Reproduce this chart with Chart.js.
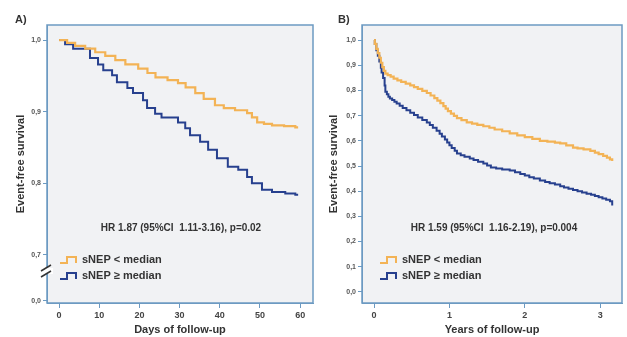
<!DOCTYPE html>
<html>
<head>
<meta charset="utf-8">
<script src="https://cdn.jsdelivr.net/npm/chart.js@4"></script>
<style>
  body { margin: 0; background: #fff; }
  #wrap { position: relative; width: 627px; height: 337px; overflow: hidden; }
  canvas { position: absolute; top: 0; }
  #chartA { left: 0; }
  #chartB { left: 316px; }
</style>
</head>
<body>
<div id="wrap">
  <canvas id="chartA" width="316" height="337"></canvas>
  <canvas id="chartB" width="311" height="337"></canvas>
</div>
<script>
// Panel A: days of follow-up (Kaplan-Meier steps)
const daysLow = [0, 2, 4, 6.5, 9, 11.5, 14, 16.5, 19.7, 22, 24, 27, 29.6, 31.5, 33.9, 36, 38.8, 41, 43.8, 46.8, 48, 49.3, 51, 53, 56, 58.8, 59.5];
const survLowA = [1.0, 0.996, 0.992, 0.988, 0.983, 0.978, 0.972, 0.966, 0.960, 0.954, 0.948, 0.944, 0.940, 0.934, 0.926, 0.918, 0.909, 0.905, 0.902, 0.898, 0.892, 0.885, 0.883, 0.881, 0.880, 0.878, 0.878];
const daysHigh = [0, 1.5, 3.5, 7.7, 9.7, 11, 13.2, 14.4, 17, 18.4, 20.9, 21.9, 23.9, 25.5, 29.6, 31.4, 32.6, 35.1, 37.1, 39.3, 42, 44.6, 46.8, 48, 50.5, 53, 56.3, 58.8, 59.5];
const survHighA = [1.0, 0.994, 0.988, 0.975, 0.966, 0.958, 0.951, 0.941, 0.933, 0.926, 0.916, 0.905, 0.897, 0.892, 0.885, 0.877, 0.867, 0.858, 0.847, 0.835, 0.823, 0.819, 0.809, 0.800, 0.791, 0.788, 0.786, 0.784, 0.784];

// Panel B: years of follow-up
const yearsLow = [0, 0.01, 0.03, 0.05, 0.07, 0.09, 0.11, 0.13, 0.15, 0.18, 0.22, 0.26, 0.31, 0.36, 0.42, 0.48, 0.53, 0.58, 0.64, 0.7, 0.75, 0.8, 0.84, 0.88, 0.92, 0.95, 0.98, 1.02, 1.06, 1.1, 1.16, 1.23, 1.3, 1.37, 1.45, 1.53, 1.6, 1.7, 1.8, 1.9, 2.0, 2.1, 2.2, 2.3, 2.4, 2.47, 2.55, 2.64, 2.7, 2.78, 2.87, 2.93, 2.98, 3.04, 3.09, 3.13, 3.16];
const survLowB = [1.0, 0.985, 0.965, 0.948, 0.93, 0.91, 0.893, 0.878, 0.867, 0.861, 0.855, 0.847, 0.84, 0.834, 0.827, 0.82, 0.813, 0.806, 0.798, 0.79, 0.78, 0.77, 0.76, 0.75, 0.738, 0.728, 0.718, 0.708, 0.699, 0.69, 0.682, 0.673, 0.668, 0.663, 0.658, 0.652, 0.645, 0.638, 0.63, 0.622, 0.615, 0.608, 0.60, 0.597, 0.593, 0.59, 0.582, 0.573, 0.57, 0.566, 0.56, 0.553, 0.547, 0.54, 0.533, 0.526, 0.52];
const yearsHigh = [0, 0.01, 0.03, 0.05, 0.07, 0.09, 0.1, 0.12, 0.14, 0.15, 0.17, 0.19, 0.21, 0.24, 0.27, 0.3, 0.34, 0.38, 0.43, 0.48, 0.53, 0.58, 0.64, 0.7, 0.74, 0.78, 0.83, 0.87, 0.9, 0.94, 0.97, 1.0, 1.03, 1.07, 1.1, 1.15, 1.2, 1.27, 1.32, 1.38, 1.45, 1.5, 1.55, 1.62, 1.7, 1.8, 1.87, 1.94, 2.0, 2.06, 2.12, 2.2, 2.27, 2.33, 2.4, 2.47, 2.52, 2.58, 2.64, 2.7, 2.76, 2.82, 2.88, 2.93, 2.98, 3.03, 3.08, 3.13, 3.16];
const survHighB = [1.0, 0.985, 0.96, 0.938, 0.915, 0.89, 0.871, 0.85, 0.82, 0.795, 0.785, 0.775, 0.768, 0.762, 0.755, 0.748, 0.739, 0.73, 0.721, 0.712, 0.703, 0.693, 0.683, 0.673, 0.663, 0.652, 0.64, 0.628, 0.617, 0.605, 0.593, 0.582, 0.572, 0.561, 0.55, 0.543, 0.537, 0.53, 0.524, 0.517, 0.51, 0.502, 0.494, 0.49, 0.486, 0.482, 0.475, 0.468, 0.462, 0.455, 0.45, 0.442, 0.437, 0.432, 0.427, 0.42, 0.415, 0.41, 0.405, 0.4, 0.395, 0.39, 0.386, 0.381, 0.376, 0.371, 0.366, 0.36, 0.343];

// Tick labels
const xTicksA = [0, 10, 20, 30, 40, 50, 60];
const xTicksB = [0, 1, 2, 3];
const breakZero = 0.636; // where "0,0" sits on the broken axis of panel A
const yTickValsA = [breakZero, 0.7, 0.8, 0.9, 1.0];
const yTickLabelsA = ["0,0", "0,7", "0,8", "0,9", "1,0"];
const yTickValsB = [0, 0.1, 0.2, 0.3, 0.4, 0.5, 0.6, 0.7, 0.8, 0.9, 1.0];
const yTickLabelsB = ["0,0", "0,1", "0,2", "0,3", "0,4", "0,5", "0,6", "0,7", "0,8", "0,9", "1,0"];

const legendLabels = ["sNEP < median", "sNEP \u2265 median"];
const hrTextA = "HR 1.87 (95%CI  1.11-3.16), p=0.02";
const hrTextB = "HR 1.59 (95%CI  1.16-2.19), p=0.004";

const ORANGE = "#f3b355";
const BLUE = "#27408e";
const FRAME = "#6c9ac2";
const TEXT = "#333333";
const FONT = "'Liberation Sans', Arial, sans-serif";

function toPoints(xs, ys) {
  return xs.map((x, i) => ({ x: x, y: ys[i] }));
}

// plot background + frame around the chart area
const framePlugin = {
  id: "frame",
  beforeDraw(chart) {
    const a = chart.chartArea;
    const ctx = chart.ctx;
    ctx.save();
    ctx.fillStyle = "#f1f2f4";
    ctx.fillRect(a.left, a.top, a.right - a.left, a.bottom - a.top);
    ctx.restore();
  },
  afterDraw(chart) {
    const a = chart.chartArea;
    const ctx = chart.ctx;
    ctx.save();
    ctx.strokeStyle = FRAME;
    ctx.lineWidth = 1.5;
    ctx.strokeRect(a.left, a.top, a.right - a.left, a.bottom - a.top);
    ctx.restore();
  },
};

// legend with step symbols, HR text, panel letter
function notesPlugin(opts) {
  return {
    id: "notes",
    afterDraw(chart) {
      const ctx = chart.ctx;
      ctx.save();
      ctx.fillStyle = TEXT;
      ctx.textBaseline = "middle";

      ctx.font = "bold 11px " + FONT;
      ctx.textAlign = "left";
      ctx.fillText(opts.panel, opts.panelX, 20);

      ctx.font = "bold 10px " + FONT;
      ctx.textAlign = "center";
      ctx.fillText(opts.hr, opts.hrX, 228);

      const colors = [ORANGE, BLUE];
      const rows = [260, 276];
      ctx.textAlign = "left";
      ctx.font = "bold 11px " + FONT;
      rows.forEach((y, i) => {
        const x0 = opts.legX;
        ctx.strokeStyle = colors[i];
        ctx.lineWidth = 2;
        ctx.beginPath();
        ctx.moveTo(x0, y + 3);
        ctx.lineTo(x0 + 7, y + 3);
        ctx.lineTo(x0 + 7, y - 3);
        ctx.lineTo(x0 + 16, y - 3);
        ctx.lineTo(x0 + 16, y + 3);
        ctx.stroke();
        ctx.fillStyle = TEXT;
        ctx.fillText(legendLabels[i], x0 + 22, y);
      });

      if (opts.axisBreak) {
        const x = chart.chartArea.left;
        const yBreak = chart.scales.y.getPixelForValue(0.7) + 16;
        ctx.fillStyle = "#ffffff";
        ctx.fillRect(x - 6, yBreak - 3, 12, 6);
        ctx.strokeStyle = "#333";
        ctx.lineWidth = 1.5;
        [-3, 3].forEach((d) => {
          ctx.beginPath();
          ctx.moveTo(x - 6, yBreak + d + 3);
          ctx.lineTo(x + 4, yBreak + d - 3);
          ctx.stroke();
        });
      }
      ctx.restore();
    },
  };
}

function makeChart(id, cfg) {
  const ctx = document.getElementById(id).getContext("2d");
  return new Chart(ctx, {
    type: "line",
    data: {
      datasets: [
        {
          label: legendLabels[0],
          data: toPoints(cfg.xLow, cfg.yLow),
          borderColor: ORANGE,
          borderWidth: 2.2,
          stepped: "before",
          pointRadius: 0,
          fill: false,
        },
        {
          label: legendLabels[1],
          data: toPoints(cfg.xHigh, cfg.yHigh),
          borderColor: BLUE,
          borderWidth: 2,
          stepped: "before",
          pointRadius: 0,
          fill: false,
        },
      ],
    },
    options: {
      responsive: false,
      animation: false,
      layout: { padding: { top: 25, right: cfg.padRight, left: 0, bottom: 0 } },
      plugins: { legend: { display: false }, tooltip: { enabled: false } },
      scales: {
        x: {
          type: "linear",
          min: cfg.xMin,
          max: cfg.xMax,
          afterBuildTicks: (s) => { s.ticks = cfg.xTicks.map((v) => ({ value: v })); },
          afterFit: (s) => { s.height = 34; },
          ticks: {
            color: "#444",
            font: { family: FONT, size: 9, weight: "bold" },
            padding: 2,
            maxRotation: 0,
          },
          grid: { drawOnChartArea: false, tickLength: 5, color: FRAME },
          border: { display: true, color: FRAME },
          title: {
            display: true,
            text: cfg.xTitle,
            color: TEXT,
            font: { family: FONT, size: 11, weight: "bold" },
            padding: { top: 0, bottom: 0 },
          },
        },
        y: {
          type: "linear",
          min: cfg.yMin,
          max: cfg.yMax,
          afterBuildTicks: (s) => { s.ticks = cfg.yTickVals.map((v) => ({ value: v })); },
          afterFit: (s) => { s.width = cfg.yWidth; },
          ticks: {
            color: "#555",
            font: { family: FONT, size: 7, weight: "bold" },
            padding: 2,
            callback: (v) => {
              const i = cfg.yTickVals.findIndex((t) => Math.abs(t - v) < 1e-6);
              return i >= 0 ? cfg.yTickLabels[i] : "";
            },
          },
          grid: { drawOnChartArea: false, tickLength: 4, color: FRAME },
          border: { display: true, color: FRAME },
          title: {
            display: true,
            text: "Event-free survival",
            color: TEXT,
            font: { family: FONT, size: 11, weight: "bold" },
            padding: { top: cfg.yTitlePad, bottom: 0 },
          },
        },
      },
    },
    plugins: [framePlugin, notesPlugin(cfg.notes)],
  });
}

makeChart("chartA", {
  xLow: daysLow, yLow: survLowA, xHigh: daysHigh, yHigh: survHighA,
  xMin: -3, xMax: 63.2, xTicks: xTicksA, xTitle: "Days of follow-up",
  yMin: 0.633, yMax: 1.021, yTickVals: yTickValsA, yTickLabels: yTickLabelsA,
  yWidth: 47, yTitlePad: 14, padRight: 3,
  notes: { panel: "A)", panelX: 15, hr: hrTextA, hrX: 181, legX: 60, axisBreak: true },
});

makeChart("chartB", {
  xLow: yearsLow, yLow: survLowB, xHigh: yearsHigh, yHigh: survHighB,
  xMin: -0.16, xMax: 3.29, xTicks: xTicksB, xTitle: "Years of follow-up",
  yMin: -0.044, yMax: 1.06, yTickVals: yTickValsB, yTickLabels: yTickLabelsB,
  yWidth: 46, yTitlePad: 11, padRight: 5,
  notes: { panel: "B)", panelX: 22, hr: hrTextB, hrX: 178, legX: 64, axisBreak: false },
});
</script>
</body>
</html>
